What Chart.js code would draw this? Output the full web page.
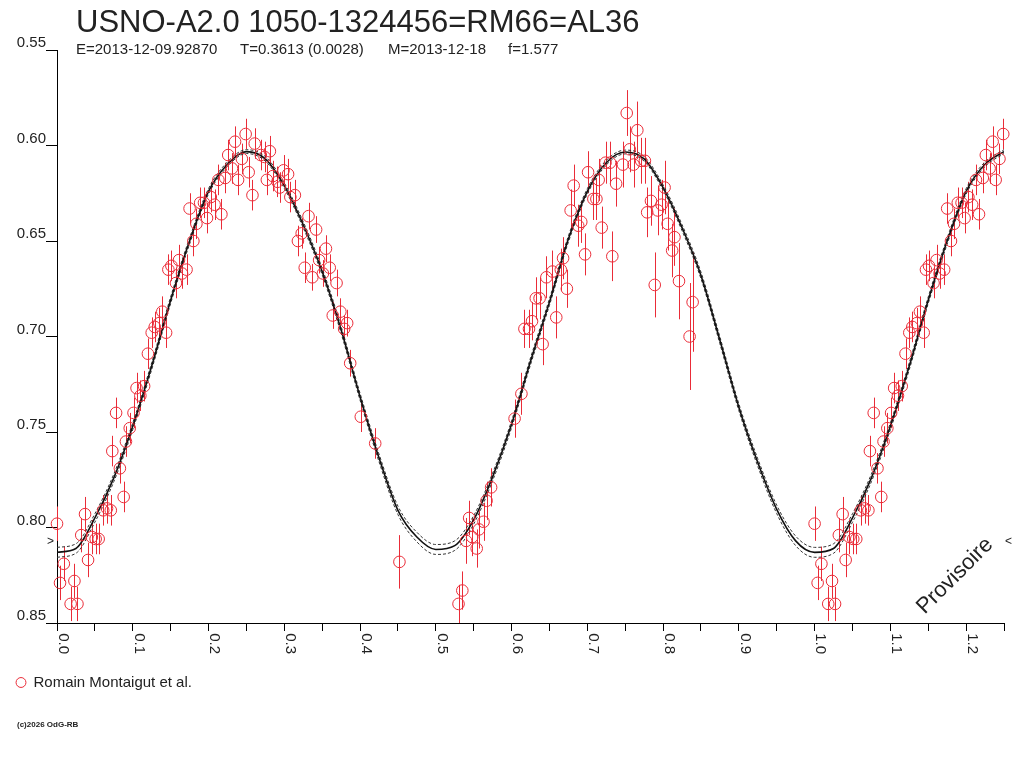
<!DOCTYPE html>
<html>
<head>
<meta charset="utf-8">
<title>USNO-A2.0 1050-1324456</title>
<script src="https://cdn.jsdelivr.net/npm/chart.js@4.4.1/dist/chart.umd.min.js"></script>
<style>
  html, body { margin: 0; padding: 0; background: #fff; }
  #wrap { position: relative; width: 1024px; height: 768px; font-family: 'Liberation Sans', Arial, sans-serif; color: #222; }
  #wrap canvas { position: absolute; left: 0; top: 0; }
  .txt { position: absolute; white-space: pre; line-height: 1; }
  #title { left: 76px; top: 6px; font-size: 31px; }
  .sub { top: 41px; font-size: 15px; }
  #copy { left: 17px; top: 721px; font-size: 8px; font-weight: bold; }
</style>
</head>
<body>
<div id="wrap">
  <canvas id="lc" width="1024" height="768"></canvas>
  <div class="txt" id="title">USNO-A2.0 1050-1324456=RM66=AL36</div>
  <div class="txt sub" style="left:76px">E=2013-12-09.92870</div>
  <div class="txt sub" style="left:240px">T=0.3613 (0.0028)</div>
  <div class="txt sub" style="left:388px">M=2013-12-18</div>
  <div class="txt sub" style="left:508px">f=1.577</div>
  <div class="txt" id="copy">(c)2026 OdG-RB</div>
</div>
<script>
const obsPhase = [
  0.000, 0.004, 0.009, 0.018, 0.023, 0.027, 0.032, 0.037, 0.041, 0.046,
  0.051, 0.055, 0.061, 0.066, 0.071, 0.073, 0.078, 0.083, 0.088, 0.091,
  0.096, 0.101, 0.105, 0.110, 0.115, 0.120, 0.125, 0.129, 0.135, 0.139,
  0.144, 0.147, 0.151, 0.157, 0.161, 0.165, 0.171, 0.175, 0.180, 0.184,
  0.189, 0.194, 0.198, 0.203, 0.208, 0.213, 0.217, 0.222, 0.226, 0.231,
  0.235, 0.239, 0.244, 0.249, 0.253, 0.258, 0.261, 0.269, 0.274, 0.277,
  0.281, 0.285, 0.291, 0.294, 0.299, 0.305, 0.308, 0.314, 0.318, 0.323,
  0.327, 0.332, 0.337, 0.342, 0.346, 0.351, 0.355, 0.360, 0.364, 0.369,
  0.374, 0.379, 0.383, 0.387, 0.401, 0.420, 0.452, 0.530, 0.535, 0.540,
  0.544, 0.548, 0.554, 0.557, 0.563, 0.567, 0.573, 0.604, 0.613, 0.617,
  0.623, 0.627, 0.632, 0.637, 0.641, 0.646, 0.654, 0.659, 0.665, 0.668,
  0.673, 0.678, 0.682, 0.688, 0.692, 0.697, 0.701, 0.708, 0.712, 0.715,
  0.719, 0.724, 0.730, 0.733, 0.738, 0.747, 0.752, 0.756, 0.761, 0.766,
  0.771, 0.776, 0.779, 0.784, 0.789, 0.793, 0.798, 0.802, 0.806, 0.812,
  0.815, 0.821, 0.835, 0.839
];
const obsMag = [
  0.798, 0.829, 0.819, 0.840, 0.828, 0.840, 0.804, 0.793, 0.817, 0.805,
  0.806, 0.806, 0.791, 0.790, 0.791, 0.760, 0.740, 0.769, 0.784, 0.755,
  0.748, 0.740, 0.727, 0.731, 0.726, 0.709, 0.698, 0.695, 0.693, 0.687,
  0.698, 0.665, 0.663, 0.672, 0.660, 0.667, 0.665, 0.633, 0.650, 0.641,
  0.630, 0.630, 0.638, 0.627, 0.631, 0.618, 0.636, 0.617, 0.605, 0.612,
  0.598, 0.618, 0.607, 0.594, 0.614, 0.626, 0.599, 0.605, 0.606, 0.618,
  0.603, 0.616, 0.619, 0.622, 0.613, 0.615, 0.627, 0.626, 0.650, 0.646,
  0.664, 0.637, 0.669, 0.644, 0.660, 0.667, 0.654, 0.664, 0.689, 0.672,
  0.687, 0.696, 0.693, 0.714, 0.742, 0.756, 0.818, 0.840, 0.833, 0.807,
  0.795, 0.805, 0.811, 0.801, 0.797, 0.786, 0.779, 0.743, 0.730, 0.696,
  0.696, 0.692, 0.680, 0.680, 0.704, 0.669, 0.666, 0.690, 0.665, 0.659,
  0.675, 0.634, 0.621, 0.642, 0.640, 0.657, 0.614, 0.628, 0.628, 0.618,
  0.643, 0.609, 0.609, 0.658, 0.620, 0.610, 0.583, 0.602, 0.610, 0.592,
  0.608, 0.608, 0.635, 0.629, 0.673, 0.634, 0.631, 0.622, 0.641, 0.655,
  0.648, 0.671, 0.700, 0.682
];
const obsErr = [
  0.009, 0.009, 0.009, 0.009, 0.009, 0.009, 0.009, 0.009, 0.009, 0.009,
  0.008, 0.008, 0.008, 0.008, 0.008, 0.008, 0.008, 0.008, 0.008, 0.008,
  0.008, 0.008, 0.008, 0.008, 0.008, 0.008, 0.008, 0.008, 0.008, 0.008,
  0.008, 0.008, 0.008, 0.008, 0.008, 0.008, 0.008, 0.008, 0.008, 0.008,
  0.008, 0.008, 0.008, 0.008, 0.008, 0.008, 0.008, 0.008, 0.008, 0.008,
  0.008, 0.008, 0.008, 0.008, 0.008, 0.008, 0.008, 0.008, 0.008, 0.008,
  0.008, 0.008, 0.008, 0.008, 0.008, 0.008, 0.008, 0.008, 0.008, 0.008,
  0.008, 0.007, 0.007, 0.007, 0.007, 0.007, 0.007, 0.007, 0.007, 0.007,
  0.007, 0.007, 0.007, 0.007, 0.008, 0.008, 0.014, 0.010, 0.010, 0.012,
  0.009, 0.010, 0.010, 0.010, 0.010, 0.010, 0.010, 0.010, 0.011, 0.010,
  0.010, 0.010, 0.011, 0.011, 0.011, 0.011, 0.011, 0.011, 0.011, 0.011,
  0.010, 0.011, 0.011, 0.011, 0.011, 0.011, 0.011, 0.011, 0.011, 0.011,
  0.011, 0.011, 0.011, 0.013, 0.012, 0.012, 0.012, 0.012, 0.012, 0.015,
  0.012, 0.012, 0.013, 0.013, 0.017, 0.013, 0.013, 0.014, 0.014, 0.014,
  0.015, 0.020, 0.028, 0.026
];

// fitted light curve and its envelope
const modelPhase = [
  0.000, 0.025, 0.050, 0.075, 0.100, 0.125, 0.150, 0.175, 0.200, 0.225,
  0.250, 0.275, 0.300, 0.325, 0.350, 0.375, 0.400, 0.425, 0.450, 0.475,
  0.500, 0.525, 0.550, 0.575, 0.600, 0.625, 0.650, 0.675, 0.700, 0.725,
  0.750, 0.775, 0.800, 0.825, 0.850, 0.875, 0.900, 0.925, 0.950, 0.975,
  1.000, 1.025, 1.050, 1.075, 1.100, 1.125, 1.150, 1.175, 1.200, 1.225,
  1.250
];
const modelMag = [
  0.8130, 0.8110, 0.7950, 0.7740, 0.7470, 0.7155, 0.6810, 0.6500, 0.6240, 0.6098,
  0.6032, 0.6070, 0.6210, 0.6415, 0.6660, 0.6965, 0.7315, 0.7635, 0.7910, 0.8050,
  0.8115, 0.8095, 0.7960, 0.7735, 0.7460, 0.7130, 0.6820, 0.6490, 0.6240, 0.6090,
  0.6034, 0.6070, 0.6220, 0.6430, 0.6680, 0.7020, 0.7370, 0.7660, 0.7905, 0.8070,
  0.8130, 0.8110, 0.7950, 0.7740, 0.7470, 0.7155, 0.6810, 0.6500, 0.6240, 0.6098,
  0.6032
];
const modelBright = [
  0.8104, 0.8085, 0.7928, 0.7720, 0.7452, 0.7137, 0.6793, 0.6484, 0.6226, 0.6086,
  0.6022, 0.6058, 0.6196, 0.6399, 0.6643, 0.6947, 0.7297, 0.7615, 0.7888, 0.8025,
  0.8089, 0.8070, 0.7938, 0.7715, 0.7442, 0.7112, 0.6803, 0.6474, 0.6226, 0.6078,
  0.6024, 0.6058, 0.6206, 0.6414, 0.6663, 0.7002, 0.7352, 0.7640, 0.7883, 0.8045,
  0.8104, 0.8085, 0.7928, 0.7720, 0.7452, 0.7137, 0.6793, 0.6484, 0.6226, 0.6086,
  0.6022
];
const modelFaint = [
  0.8156, 0.8135, 0.7972, 0.7760, 0.7488, 0.7173, 0.6827, 0.6516, 0.6254, 0.6110,
  0.6042, 0.6082, 0.6224, 0.6431, 0.6677, 0.6983, 0.7333, 0.7655, 0.7932, 0.8075,
  0.8141, 0.8120, 0.7982, 0.7755, 0.7478, 0.7148, 0.6837, 0.6506, 0.6254, 0.6102,
  0.6044, 0.6082, 0.6234, 0.6446, 0.6697, 0.7038, 0.7388, 0.7680, 0.7927, 0.8095,
  0.8156, 0.8135, 0.7972, 0.7760, 0.7488, 0.7173, 0.6827, 0.6516, 0.6254, 0.6110,
  0.6042
];

const minLevel = 0.8073;   // the small > < marks on both sides
const xMin = 0, xMax = 1.25;
const yMin = 0.55, yMax = 0.85;

const RED = '#ea2c38';
const INK = '#222222';

// phases below 0.25 are shown a second time after phase 1.0
const points = [];
obsPhase.forEach((p, i) => {
  points.push({ x: p, y: obsMag[i], e: obsErr[i] });
  if (p + 1 <= xMax) points.push({ x: p + 1, y: obsMag[i], e: obsErr[i] });
});

const toXY = arr => modelPhase.map((p, i) => ({ x: p, y: arr[i] }));

const extras = {
  id: 'extras',
  beforeDatasetsDraw(chart) {
    const { ctx } = chart;
    const x = chart.scales.x, y = chart.scales.y;
    ctx.save();
    ctx.strokeStyle = RED;
    ctx.lineWidth = 1;
    points.forEach(p => {
      const px = Math.round(x.getPixelForValue(p.x)) + 0.5;
      ctx.beginPath();
      ctx.moveTo(px, y.getPixelForValue(p.y - p.e));
      ctx.lineTo(px, y.getPixelForValue(p.y + p.e));
      ctx.stroke();
    });
    ctx.restore();
  },
  afterDraw(chart) {
    const { ctx, chartArea } = chart;
    const y = chart.scales.y;
    const ym = y.getPixelForValue(minLevel);
    ctx.save();
    ctx.fillStyle = INK;
    ctx.font = "12px 'Liberation Sans', Arial, sans-serif";
    ctx.textBaseline = 'middle';
    ctx.textAlign = 'right';
    ctx.fillText('>', chartArea.left - 3, ym);
    ctx.textAlign = 'left';
    ctx.fillText('<', chartArea.right + 1, ym);

    ctx.translate(chartArea.right - 49, chartArea.bottom - 47);
    ctx.rotate(-Math.PI / 4);
    ctx.font = "22px 'Liberation Sans', Arial, sans-serif";
    ctx.textAlign = 'center';
    ctx.fillText('Provisoire', 0, 0);
    ctx.restore();
  }
};

Chart.defaults.font.family = "'Liberation Sans', Arial, sans-serif";
Chart.defaults.color = INK;

new Chart(document.getElementById('lc'), {
  type: 'scatter',
  data: {
    datasets: [
      {
        label: 'Romain Montaigut et al.',
        data: points,
        showLine: false,
        pointStyle: 'circle',
        pointRadius: 5.8,
        pointHoverRadius: 5.8,
        borderColor: RED,
        backgroundColor: 'rgba(0,0,0,0)',
        borderWidth: 1,
        clip: false
      },
      {
        label: 'model',
        data: toXY(modelMag),
        showLine: true,
        pointRadius: 0,
        borderColor: '#111',
        borderWidth: 1.6,
        cubicInterpolationMode: 'monotone'
      },
      {
        label: 'model+',
        data: toXY(modelBright),
        showLine: true,
        pointRadius: 0,
        borderColor: '#333',
        borderWidth: 1,
        borderDash: [3, 2],
        cubicInterpolationMode: 'monotone'
      },
      {
        label: 'model-',
        data: toXY(modelFaint),
        showLine: true,
        pointRadius: 0,
        borderColor: '#333',
        borderWidth: 1,
        borderDash: [3, 2],
        cubicInterpolationMode: 'monotone'
      }
    ]
  },
  options: {
    responsive: false,
    animation: false,
    layout: { padding: { left: 6, top: 50, right: 20, bottom: 68 } },
    plugins: {
      title: { display: false },
      tooltip: { enabled: false },
      legend: {
        position: 'bottom',
        align: 'start',
        labels: {
          filter: item => item.datasetIndex === 0,
          usePointStyle: true,
          boxWidth: 10,
          boxHeight: 7,
          padding: 10,
          color: INK,
          font: { size: 15 }
        }
      }
    },
    scales: {
      x: {
        type: 'linear',
        min: xMin,
        max: xMax,
        border: { display: true, color: '#000', width: 1 },
        grid: { display: true, drawOnChartArea: false, drawTicks: true, tickLength: 8, color: '#000' },
        ticks: {
          stepSize: 0.05,
          autoSkip: false,
          minRotation: -90,
          maxRotation: -90,
          padding: 23,
          labelOffset: 6,
          color: INK,
          font: { size: 15 },
          callback: v => {
            const k = Math.round(v * 100);
            return (k % 10 === 0) ? (k / 100).toFixed(1) : '';
          }
        },
        afterFit: s => { s.height = 42; s.paddingLeft = 0; s.paddingRight = 0; }
      },
      y: {
        type: 'linear',
        reverse: true,
        min: yMin,
        max: yMax,
        border: { display: true, color: '#000', width: 1 },
        grid: { display: true, drawOnChartArea: false, drawTicks: true, tickLength: 11, color: '#000' },
        ticks: {
          stepSize: 0.05,
          padding: 0,
          labelOffset: -7,
          color: INK,
          font: { size: 15 },
          callback: v => Number(v).toFixed(2)
        },
        afterFit: s => { s.width = 51; s.paddingTop = 0; s.paddingBottom = 0; }
      }
    }
  },
  plugins: [extras]
});
</script>
</body>
</html>
